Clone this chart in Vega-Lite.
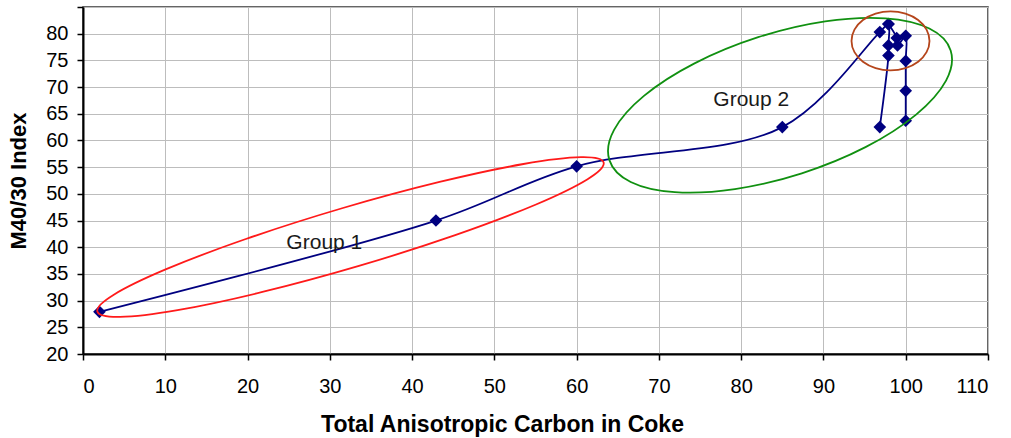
{
  "$schema": "https://vega.github.io/schema/vega-lite/v6.json",
  "width": 905,
  "height": 347,
  "autosize": {"type": "none"},
  "padding": {"left": 83, "top": 7, "right": 23, "bottom": 84},
  "background": "white",
  "config": {
    "font": "Liberation Sans",
    "view": {"stroke": "#333333", "strokeWidth": 1.5},
    "axis": {
      "grid": true,
      "gridColor": "#bdbdbd",
      "gridWidth": 1,
      "domainColor": "#000000",
      "domainWidth": 2,
      "tickColor": "#000000",
      "tickWidth": 1.5,
      "tickSize": 6,
      "labelColor": "#000000",
      "labelFont": "Liberation Sans",
      "labelFontSize": 20,
      "labelOverlap": false,
      "titleColor": "#000000",
      "titleFont": "Liberation Sans",
      "titleFontSize": 22,
      "titleFontWeight": "bold"
    }
  },
  "datasets": {
    "series": [
      {"s": "A", "i": 1, "x": 2, "y": 27.9},
      {"s": "A", "i": 2, "x": 42.9, "y": 45.0},
      {"s": "A", "i": 3, "x": 60.0, "y": 55.15},
      {"s": "A", "i": 4, "x": 85.0, "y": 62.5},
      {"s": "A", "i": 5, "x": 96.85, "y": 80.3},
      {"s": "A", "i": 6, "x": 97.9, "y": 81.8},
      {"s": "A", "i": 7, "x": 97.9, "y": 77.8},
      {"s": "A", "i": 8, "x": 97.9, "y": 75.9},
      {"s": "A", "i": 9, "x": 96.85, "y": 62.5},
      {"s": "B", "i": 1, "x": 97.9, "y": 81.8},
      {"s": "B", "i": 2, "x": 98.9, "y": 79.2},
      {"s": "B", "i": 3, "x": 99.0, "y": 77.8},
      {"s": "B", "i": 4, "x": 100.0, "y": 79.6},
      {"s": "B", "i": 5, "x": 100.0, "y": 74.9},
      {"s": "B", "i": 6, "x": 100.0, "y": 69.3},
      {"s": "B", "i": 7, "x": 100.0, "y": 63.7}
    ],
    "ellipses": [
      {"e": "g1", "k": 0, "x": 63.28, "y": 55.87},
      {"e": "g1", "k": 1, "x": 61.33, "y": 52.74},
      {"e": "g1", "k": 2, "x": 54.99, "y": 47.96},
      {"e": "g1", "k": 3, "x": 45.24, "y": 42.26},
      {"e": "g1", "k": 4, "x": 33.54, "y": 36.5},
      {"e": "g1", "k": 5, "x": 21.69, "y": 31.57},
      {"e": "g1", "k": 6, "x": 11.49, "y": 28.21},
      {"e": "g1", "k": 7, "x": 4.49, "y": 26.94},
      {"e": "g1", "k": 8, "x": 1.75, "y": 27.94},
      {"e": "g1", "k": 9, "x": 3.7, "y": 31.07},
      {"e": "g1", "k": 10, "x": 10.04, "y": 35.84},
      {"e": "g1", "k": 11, "x": 19.79, "y": 41.54},
      {"e": "g1", "k": 12, "x": 31.49, "y": 47.3},
      {"e": "g1", "k": 13, "x": 43.34, "y": 52.23},
      {"e": "g1", "k": 14, "x": 53.54, "y": 55.59},
      {"e": "g1", "k": 15, "x": 60.54, "y": 56.87},
      {"e": "g2", "k": 0, "x": 105.46, "y": 76.87},
      {"e": "g2", "k": 1, "x": 104.9, "y": 71.21},
      {"e": "g2", "k": 2, "x": 101.26, "y": 64.85},
      {"e": "g2", "k": 3, "x": 95.11, "y": 58.75},
      {"e": "g2", "k": 4, "x": 87.37, "y": 53.85},
      {"e": "g2", "k": 5, "x": 79.24, "y": 50.89},
      {"e": "g2", "k": 6, "x": 71.93, "y": 50.32},
      {"e": "g2", "k": 7, "x": 66.57, "y": 52.23},
      {"e": "g2", "k": 8, "x": 63.98, "y": 56.32},
      {"e": "g2", "k": 9, "x": 64.55, "y": 61.99},
      {"e": "g2", "k": 10, "x": 68.18, "y": 68.35},
      {"e": "g2", "k": 11, "x": 74.33, "y": 74.44},
      {"e": "g2", "k": 12, "x": 82.07, "y": 79.34},
      {"e": "g2", "k": 13, "x": 90.21, "y": 82.3},
      {"e": "g2", "k": 14, "x": 97.51, "y": 82.87},
      {"e": "g2", "k": 15, "x": 102.87, "y": 80.97},
      {"e": "g3", "k": 0, "x": 102.89, "y": 78.65},
      {"e": "g3", "k": 1, "x": 102.53, "y": 80.77},
      {"e": "g3", "k": 2, "x": 101.51, "y": 82.56},
      {"e": "g3", "k": 3, "x": 99.97, "y": 83.76},
      {"e": "g3", "k": 4, "x": 98.15, "y": 84.19},
      {"e": "g3", "k": 5, "x": 96.34, "y": 83.76},
      {"e": "g3", "k": 6, "x": 94.8, "y": 82.56},
      {"e": "g3", "k": 7, "x": 93.77, "y": 80.77},
      {"e": "g3", "k": 8, "x": 93.41, "y": 78.65},
      {"e": "g3", "k": 9, "x": 93.77, "y": 76.54},
      {"e": "g3", "k": 10, "x": 94.8, "y": 74.74},
      {"e": "g3", "k": 11, "x": 96.34, "y": 73.54},
      {"e": "g3", "k": 12, "x": 98.15, "y": 73.12},
      {"e": "g3", "k": 13, "x": 99.97, "y": 73.54},
      {"e": "g3", "k": 14, "x": 101.51, "y": 74.74},
      {"e": "g3", "k": 15, "x": 102.53, "y": 76.54}
    ],
    "labels": [
      {"x": 29.33, "y": 39.7, "label": "Group 1"},
      {"x": 81.23, "y": 66.5, "label": "Group 2"}
    ]
  },
  "encoding": {
    "x": {
      "field": "x", "type": "quantitative",
      "scale": {"domain": [0, 110], "nice": false, "zero": false},
      "axis": {"title": "Total Anisotropic Carbon in Coke", "values": [0, 10, 20, 30, 40, 50, 60, 70, 80, 90, 100, 110], "labelPadding": 16, "titlePadding": 17, "titleFontSize": 23, "titleX": 419, "titleAnchor": "middle", "titleAlign": "center"}
    },
    "y": {
      "field": "y", "type": "quantitative",
      "scale": {"domain": [20, 85], "nice": false, "zero": false},
      "axis": {"title": "M40/30 Index", "values": [20, 25, 30, 35, 40, 45, 50, 55, 60, 65, 70, 75, 80, 85], "labelExpr": "datum.value == 85 ? '' : datum.label", "labelPadding": 9, "titlePadding": 15}
    }
  },
  "layer": [
    {
      "data": {"name": "series"},
      "mark": {"type": "line", "interpolate": "catmull-rom", "color": "#000080", "strokeWidth": 1.8},
      "encoding": {
        "detail": {"field": "s"},
        "order": {"field": "i", "type": "quantitative"}
      }
    },
    {
      "data": {"name": "series"},
      "mark": {"type": "point", "shape": "diamond", "filled": true, "size": 160, "color": "#000080", "opacity": 1},
      "encoding": {}
    },
    {
      "data": {"name": "ellipses"},
      "mark": {"type": "line", "interpolate": "cardinal-closed", "strokeWidth": 1.8},
      "encoding": {
        "color": {"field": "e", "type": "nominal", "scale": {"domain": ["g1", "g2", "g3"], "range": ["#ff1a1a", "#109010", "#b5451b"]}, "legend": null},
        "order": {"field": "k", "type": "quantitative"}
      }
    },
    {
      "data": {"name": "labels"},
      "mark": {"type": "text", "font": "Liberation Sans", "fontSize": 21, "color": "#1a1a1a", "align": "center", "baseline": "alphabetic"},
      "encoding": {
        "text": {"field": "label"}
      }
    }
  ]
}
